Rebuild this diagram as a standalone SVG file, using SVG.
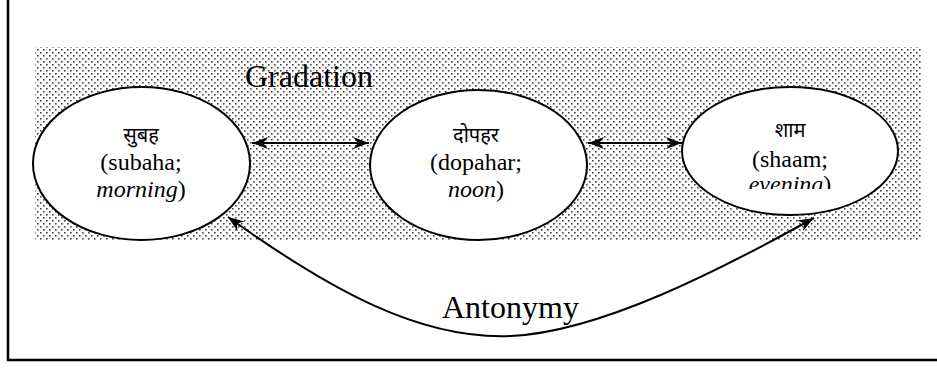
<svg xmlns="http://www.w3.org/2000/svg" width="937" height="368" viewBox="0 0 937 368">
<style>
.node ellipse{fill:#fff;stroke:#000;stroke-width:2}
.t{font-size:24px;fill:#000;text-anchor:middle}
.hi{font-size:20px;fill:#000;text-anchor:middle}
.big{font-size:32px;fill:#000}
.conn path{fill:none;stroke:#000;stroke-width:2}
</style>
<defs>
<pattern id="dots" width="6" height="6" patternUnits="userSpaceOnUse">
<rect x="1" y="1" width="1.6" height="1.6" fill="#444"/>
<rect x="4" y="4" width="1.6" height="1.6" fill="#444"/>
</pattern>
<marker id="ah" viewBox="-16 -7 18 14" refX="0" refY="0" markerWidth="18" markerHeight="14" markerUnits="userSpaceOnUse" orient="auto-start-reverse">
<path d="M0,0 L-16,-6 L-11,0 L-16,6 Z" fill="#000"/>
</marker>
<clipPath id="clip3"><rect x="680" y="80" width="220" height="109"/></clipPath>
</defs>
<rect width="937" height="368" fill="#fff"/>
<path d="M8,0 V360 H937" fill="none" stroke="#000" stroke-width="2.5"/>
<rect x="35" y="47" width="886" height="194" fill="url(#dots)"/>
<text class="big" font-family="'Liberation Serif', 'Times New Roman', serif" x="245" y="87">Gradation</text>
<g id="n1" class="node">
<ellipse cx="141.5" cy="163.5" rx="108.5" ry="76.5"/>
<text class="hi" font-family="'Noto Sans Devanagari', 'Noto Sans', sans-serif" x="141" y="142">सुबह</text>
<text class="t" font-family="'Liberation Serif', 'Times New Roman', serif" x="141" y="170">(subaha;</text>
<text class="t" font-family="'Liberation Serif', 'Times New Roman', serif" x="141" y="197"><tspan font-style="italic">morning</tspan>)</text>
</g>
<g id="n2" class="node">
<ellipse cx="478.5" cy="165" rx="108.5" ry="75"/>
<text class="hi" font-family="'Noto Sans Devanagari', 'Noto Sans', sans-serif" x="476" y="142">दोपहर</text>
<text class="t" font-family="'Liberation Serif', 'Times New Roman', serif" x="476" y="170">(dopahar;</text>
<text class="t" font-family="'Liberation Serif', 'Times New Roman', serif" x="476" y="197"><tspan font-style="italic">noon</tspan>)</text>
</g>
<g id="n3" class="node">
<ellipse cx="790" cy="151" rx="108" ry="64"/>
<text class="hi" font-family="'Noto Sans Devanagari', 'Noto Sans', sans-serif" x="790" y="137">शाम</text>
<text class="t" font-family="'Liberation Serif', 'Times New Roman', serif" x="790" y="167">(shaam;</text>
<g clip-path="url(#clip3)"><text class="t" font-family="'Liberation Serif', 'Times New Roman', serif" x="790" y="192"><tspan font-style="italic">evening</tspan>)</text></g>
</g>
<g id="connectors" class="conn">
<path d="M252,143 H369" marker-start="url(#ah)" marker-end="url(#ah)"/>
<path d="M588,143 H682" marker-start="url(#ah)" marker-end="url(#ah)"/>
<path d="M228,217 C330,290 420,340 511,336 C600,332 720,270 814,218" marker-start="url(#ah)" marker-end="url(#ah)"/>
</g>
<text class="big" font-family="'Liberation Serif', 'Times New Roman', serif" x="442" y="318">Antonymy</text>
</svg>
